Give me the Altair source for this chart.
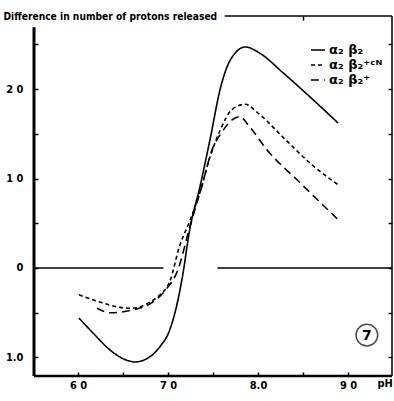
import altair as alt
import pandas as pd

# ---- data ----
series_names = ["α₂ β₂", "α₂ β₂⁺ᶜᴺ", "α₂ β₂⁺"]

ph_a = [6.01, 6.17, 6.36, 6.54, 6.63, 6.77, 6.91, 7.02, 7.11, 7.16, 7.24, 7.36, 7.47, 7.58, 7.69, 7.86, 8.02, 8.28, 8.58, 8.89]
val_a = [-0.56, -0.73, -0.92, -1.03, -1.05, -1.01, -0.88, -0.69, -0.36, -0.10, 0.42, 0.93, 1.45, 2.00, 2.32, 2.47, 2.40, 2.18, 1.91, 1.62]

ph_b = [6.01, 6.24, 6.47, 6.61, 6.80, 6.91, 7.02, 7.13, 7.24, 7.36, 7.47, 7.58, 7.71, 7.86, 7.99, 8.28, 8.58, 8.89]
val_b = [-0.30, -0.38, -0.44, -0.45, -0.38, -0.30, -0.15, 0.25, 0.52, 0.86, 1.25, 1.54, 1.77, 1.83, 1.74, 1.46, 1.17, 0.93]

ph_c = [6.21, 6.36, 6.60, 6.80, 6.97, 7.11, 7.24, 7.38, 7.49, 7.60, 7.72, 7.80, 7.89, 8.10, 8.47, 8.89]
val_c = [-0.45, -0.50, -0.47, -0.40, -0.25, -0.02, 0.45, 0.93, 1.32, 1.52, 1.66, 1.69, 1.60, 1.32, 0.95, 0.54]

# zero reference line (broken where the curves cross)
zero_start = [5.511, 7.55]
zero_end = [6.95, 9.489]

x_ticks = [6.0, 6.5, 7.0, 7.5, 8.0, 8.5, 9.0]
y_ticks = [-1.0, -0.5, 0.0, 0.5, 1.0, 1.5, 2.0, 2.5]

x_min, x_max = 5.511, 9.489
y_min, y_max = -1.207, 2.816
left_axis_top = 2.69
top_line_start = 7.63

figure_no = "7"
figure_no_ph = 9.21
figure_no_val = -0.75

# ---- tables ----
rows = []
for name, xs, ys in [(series_names[0], ph_a, val_a), (series_names[1], ph_b, val_b), (series_names[2], ph_c, val_c)]:
    for i, (x, y) in enumerate(zip(xs, ys)):
        rows.append({"series": name, "ph": x, "val": y, "o": i})
df = pd.DataFrame(rows)

zero_df = pd.DataFrame({"x0": zero_start, "x1": zero_end, "y": [0.0, 0.0]})
fig_df = pd.DataFrame({"ph": [figure_no_ph], "val": [figure_no_val], "t": [figure_no]})

FONT = "DejaVu Sans Condensed"
xscale = alt.Scale(domain=[x_min, x_max], nice=False, zero=False)
yscale = alt.Scale(domain=[y_min, y_max], nice=False, zero=False)

x_label_expr = "datum.value == 6 ? '6 0' : datum.value == 7 ? '7 0' : datum.value == 8 ? '8.0' : datum.value == 9 ? '9 0' : ''"
y_label_expr = "datum.value == 2 ? '2 0' : datum.value == 1 ? '1 0' : datum.value == 0 ? '0' : datum.value == -1 ? '1.0' : ''"

x_axis = alt.Axis(values=x_ticks, labelExpr=x_label_expr, orient="bottom", offset=-4,
                  tickSize=4, tickWidth=1.5, tickColor="black", domain=False, grid=False,
                  labelPadding=3, labelFont=FONT, labelFontSize=11, labelFontWeight="bold",
                  labelColor="black", title="pH", titleFont=FONT, titleFontSize=11,
                  titleFontWeight="bold", titleColor="black", titleX=343, titleY=11,
                  titleAlign="left", titleBaseline="middle")
y_axis = alt.Axis(values=y_ticks, labelExpr=y_label_expr, orient="left", offset=-4,
                  tickSize=4, tickWidth=1.5, tickColor="black", domain=False, grid=False,
                  labelPadding=11, labelFont=FONT, labelFontSize=11, labelFontWeight="bold",
                  labelColor="black", title="Difference in number of protons released",
                  titleFont=FONT, titleFontSize=10.2, titleFontWeight="bold", titleColor="black",
                  titleAngle=0, titleAlign="left", titleBaseline="middle", titleX=-35, titleY=0)

curves = alt.Chart(df).mark_line(color="black", strokeWidth=1.6, interpolate="monotone").encode(
    x=alt.X("ph:Q", scale=xscale, axis=x_axis),
    y=alt.Y("val:Q", scale=yscale, axis=y_axis),
    strokeDash=alt.StrokeDash("series:N",
        scale=alt.Scale(domain=series_names, range=[[1, 0], [4, 3], [8, 5]]),
        legend=alt.Legend(title=None, orient="none", legendX=276, legendY=26,
                          symbolType="stroke", symbolSize=196, symbolStrokeWidth=1.6,
                          symbolStrokeColor="black", labelFont="DejaVu Sans", labelFontSize=13,
                          labelFontWeight="bold", labelColor="black", labelOffset=3,
                          rowPadding=-1, padding=0)),
    order="o:Q",
)

zero_line = alt.Chart(zero_df).mark_rule(color="black", strokeWidth=1.5).encode(
    x=alt.X("x0:Q", scale=xscale, axis=None), x2="x1:Q",
    y=alt.Y("y:Q", scale=yscale, axis=None),
)

frame_df = pd.DataFrame({"x": [x_min], "xr": [x_max], "y0": [y_min], "yt": [left_axis_top], "y1": [y_max], "xt": [top_line_start]})

left_line = alt.Chart(frame_df).mark_rule(color="black", strokeWidth=3).encode(
    x=alt.X("x:Q", scale=xscale, axis=None),
    y=alt.Y("y0:Q", scale=yscale, axis=None), y2="yt:Q")
bottom_line = alt.Chart(frame_df).mark_rule(color="black", strokeWidth=2.5).encode(
    x=alt.X("x:Q", scale=xscale, axis=None), x2="xr:Q",
    y=alt.Y("y0:Q", scale=yscale, axis=None))
right_line = alt.Chart(frame_df).mark_rule(color="black", strokeWidth=1.5).encode(
    x=alt.X("xr:Q", scale=xscale, axis=None),
    y=alt.Y("y0:Q", scale=yscale, axis=alt.Axis(orient="right", values=y_ticks, labels=False,
             domain=False, grid=False, tickSize=4, tickWidth=1.5, tickColor="black",
             offset=-4, title=None)), y2="y1:Q")
top_line = alt.Chart(frame_df).mark_rule(color="black", strokeWidth=1.5).encode(
    x=alt.X("xt:Q", scale=xscale, axis=alt.Axis(orient="top", values=[8.5], labels=False,
             domain=False, grid=False, tickSize=4, tickWidth=1.5, tickColor="black",
             offset=-4, title=None)), x2="xr:Q",
    y=alt.Y("y1:Q", scale=yscale, axis=None))

circle = alt.Chart(fig_df).mark_point(shape="circle", size=470, color="black", strokeWidth=1.5, filled=False).encode(
    x=alt.X("ph:Q", scale=xscale, axis=None), y=alt.Y("val:Q", scale=yscale, axis=None))
circle_text = alt.Chart(fig_df).mark_text(font="DejaVu Sans", fontSize=14, fontWeight="bold", color="black",
                                          baseline="middle", align="center", dy=1).encode(
    x=alt.X("ph:Q", scale=xscale, axis=None), y=alt.Y("val:Q", scale=yscale, axis=None), text="t:N")

chart = alt.layer(curves, zero_line, left_line, bottom_line, right_line, top_line, circle, circle_text).resolve_axis(
    x="independent", y="independent"
).properties(
    width=358, height=360,
    autosize=alt.AutoSizeParams(type="none"),
    padding={"left": 34, "top": 16, "right": 2, "bottom": 25},
    background="white",
).configure_view(stroke=None)

chart.save("out.html", embed_options={"renderer": "svg", "actions": False})
